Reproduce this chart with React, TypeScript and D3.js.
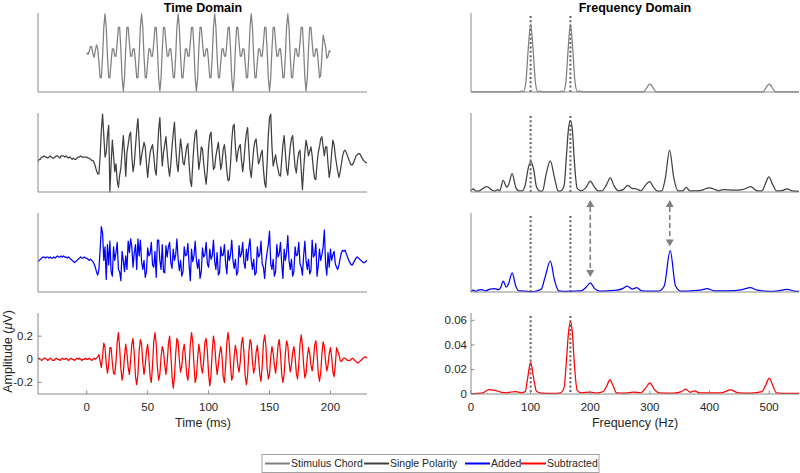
import React from "react";
import * as d3 from "d3";

// ---- time domain, one sample per ms ----
const stimStart = 0;
const stimulusChord = [
  0, -0.1, 0.05, 0.3, 0.3, -0.05, -0.25, 0.1, 0.4, 0.2, -0.5, -1.31, -1.31, -0.19, 1.31,
  2, 1.31, -0.19, -1.31, -1.31, -0.5, 0.19, 0.19, -0.19, -0.19, 0.5, 1.31, 1.31, 0.19, -1.31, -2, -1.31, 0.19, 1.31, 1.31, 0.5, -0.19, -0.19, 0.19, 0.19, -0.5, -1.31, -1.31, -0.19, 1.31,
  2, 1.31, -0.19, -1.31, -1.31, -0.5, 0.19, 0.19, -0.19, -0.19, 0.5, 1.31, 1.31, 0.19, -1.31, -2, -1.31, 0.19, 1.31, 1.31, 0.5, -0.19, -0.19, 0.19, 0.19, -0.5, -1.31, -1.31, -0.19, 1.31,
  2, 1.31, -0.19, -1.31, -1.31, -0.5, 0.19, 0.19, -0.19, -0.19, 0.5, 1.31, 1.31, 0.19, -1.31, -2, -1.31, 0.19, 1.31, 1.31, 0.5, -0.19, -0.19, 0.19, 0.19, -0.5, -1.31, -1.31, -0.19, 1.31,
  2, 1.31, -0.19, -1.31, -1.31, -0.5, 0.19, 0.19, -0.19, -0.19, 0.5, 1.31, 1.31, 0.19, -1.31, -2, -1.31, 0.19, 1.31, 1.31, 0.5, -0.19, -0.19, 0.19, 0.19, -0.5, -1.31, -1.31, -0.19, 1.31,
  2, 1.31, -0.19, -1.31, -1.31, -0.5, 0.19, 0.19, -0.19, -0.19, 0.5, 1.31, 1.31, 0.19, -1.31, -2, -1.31, 0.19, 1.31, 1.31, 0.5, -0.19, -0.19, 0.19, 0.19, -0.5, -1.31, -1.31, -0.19, 1.31,
  2, 1.31, -0.19, -1.31, -1.31, -0.5, 0.19, 0.19, -0.19, -0.19, 0.5, 1.31, 1.31, 0.19, -1.31, -2, -1.31, 0.19, 1.31, 1.31, 0.5, -0.19, -0.19, 0.19, 0.19, -0.5, -1.31, -1.2, -0.19, 0.9,
  0.6, 0.3, -0.3, -0.2, 0.1, 0,
];

const respStart = -40;
const singlePolarity = [
  -.03, -.01, -.01, .01, .01, .02, .01, .01, 0, .01, .02, .01, 0, 0, .01, .02, .02, .01, 0, .02,
  .02, .02, .01, .02, .01, 0, .01, 0, -.01, 0, -.01, -.01, 0, .01, .01, .02, .01, .01, .01, .01,
  .01, 0, 0, -.01, -.02, -.02, -.04, -.07, -.11, -.14,
  -.14, .02, .25, .39, .2, .01, .05, .2, .29, -.3,
  -.05, .16, .02, -.12, -.05, -.2, -.26, -.15, -.09, .05,
  .2, .05, -.16, .05, .12, .2, .23, .02, -.12, -.05,
  .1, .25, .35, .15, -.06, .02, .08, .14, .1, -.05,
  -.17, -.05, .05, .09, .12, .02, -.1, -.15, .05, .25,
  .36, .12, -.07, .05, .12, .19, .05, -.08, -.16, -.05,
  .1, .22, .32, .1, -.05, -.12, .03, .17, .08, -.04,
  -.06, .02, .1, .13, -.05, -.2, -.25, -.05, .12, .22,
  .25, .05, -.1, -.02, .1, .08, -.05, -.15, -.23, -.1,
  .1, .2, .23, .05, -.1, -.08, .02, .08, .14, .02,
  -.1, -.04, .08, .12, .02, -.12, -.2,
  -.19, -.05, .15, .28, .3, .1, -.03, .05, .1, .12,
  -.02, -.12, -.02, .12, .22, .27, .08, -.1, -.17, -.05,
  .08, .15, .17, .05, -.05, -.02, .04, .07, -.1, -.22,
  -.26, -.05, .2, .36, .39, .1, -.07, -.02, .03, -.05,
  -.1, -.15, -.16, -.02, .12, .2, .05, -.1, -.15, -.02,
  .1, .17, .2, .05, -.08, -.13, -.02, .05, .07, -.1,
  -.28, -.1, .05, .16, .1, .02, .06, .1, .02, -.1,
  -.18, -.19, -.05, .05, .1, .17, .19, .1, .02, .1,
  .1, -.05, -.17, -.1, .05, .16, .12, .02, -.05, -.12,
  -.17, -.12, -.05, .02, .06, .07, .05, .02, -.01, -.04,
  -.06, -.06, -.04, -.01, .02, .03, .04, .04, .02, 0,
  -.02, -.03, -.04, -.04,
];

const added = [
  -.03, -.02, -.01, 0, .01, .01, 0, .01, .01, 0, .01, 0, 0, .01, 0, .01, .02, .01, .01, .02,
  .01, .02, .01, .01, 0, .01, 0, -.01, -.02, -.03, -.04, -.03, -.02, -.01, 0, .01, 0, 0, .01, 0,
  0, -.01, -.02, -.01, -.02, -.03, -.05, -.08, -.12, -.15, -.1, .08, .28, .22,
  -.02, .1, -.19, .12, -.06, .15, -.12, -.16, .1, -.02, .05, .14, -.1, -.12, -.2,
  .06, -.02, -.12, .02, -.1, .15, .05, .17, .1, -.08, .05, .12, -.1, .17, .02,
  .16, -.03, -.1, -.02, -.17, -.12, .09, .02, .04, .14, -.06, -.08, .06, -.17, .16,
  .16, -.02, -.1, .12, -.12, -.13, .11, .01, .1, .14, -.04, -.09, .08, -.02, .03,
  .17, -.01, -.11, -.02, -.16, -.12, .1, .02, .03, .13, -.06, -.2, .08, -.03, .02,
  .15, -.02, -.09, -.01, -.18, -.12, .09, .01, .03, .14, -.05, -.08, .08, -.01, .02,
  .16, -.03, -.1, .05, -.15, -.13, .1, .02, .03, .12, -.05, -.14, .07, -.02, .03,
  .16, -.02, -.09, -.01, -.15, -.12, .11, .01, .04, .14, -.04, -.09, .08, -.02, .1,
  .17, -.02, -.1, -.01, -.15, -.13, .1, .01, .03, .15, -.05, -.08, -.18, -.03, .05,
  .12, .24, -.05, -.1, -.01, -.16, -.12, .12, .01, .04, .14, -.05, -.18, .08, -.02,
  .05, .2, -.02, -.1, -.01, -.16, -.12, .1, .02, .03, .14, -.05, -.08, -.15, .02,
  .15, -.02, -.1, -.01, -.14, -.11, .16, .01, .03, .13, -.16, -.07, .08, -.02, .03,
  .1, .25, -.05, -.15, .05, -.08, .08, -.02, .03, .06, -.05, -.08,
  -.1, -.06, 0, .05, .07, .06, .07, .04, .01, -.02, -.04, -.06, -.06, -.04, -.02, 0, .01, 0, -.01, -.02,
  -.03, -.04, -.04, -.03, -.02,
];

const subtracted = [
  0, .01, 0, -.01, 0, .01, .01, 0, -.01, 0, .01, 0, -.01, -.01, 0, .01, 0, 0, -.01, 0,
  .01, 0, 0, .01, 0, -.01, 0, .01, 0, 0, -.01, 0, .01, 0, .01, 0, -.01, 0, 0, .01,
  0, 0, .01, 0, -.01, 0, .01, 0, .01, .02, .04,
  -.02, -.07, .03, .14, .1, -.04, -.12, -.05, .1, .1, -.03, -.12, -.13, -.02, .15,
  .23, .1, -.08, -.18, -.12, .03, .13, .05, -.07, -.13, -.01, .13, .18, .05, -.15, -.22, -.13, .07, .17, .13, -.03, -.13, -.05, .07, .13, .01, -.15, -.2, -.05, .15,
  .23, .13, -.07, -.18, -.13, .02, .11, .07, -.05, -.13, -.03, .13, .2, .05, -.15, -.25, -.15, .05, .18, .15, -.01, -.11, -.06, .07, .13, .02, -.13, -.18, -.07, .13,
  .23, .15, -.05, -.2, -.15, .01, .13, .05, -.07, -.12, -.01, .15, .18, .07, -.13, -.23, -.13, .07, .2, .13, -.03, -.13, -.05, .05, .11, .03, -.15, -.2, -.05, .15,
  .23, .13, -.06, -.18, -.14, .03, .12, .06, -.06, -.11, -.02, .14, .19, .06, -.14, -.22, -.14, .06, .17, .14, -.02, -.12, -.07, .06, .12, .01, -.13, -.19, -.06, .14,
  .21, .12, -.07, -.17, -.13, .02, .11, .05, -.05, -.12, -.02, .12, .17, .05, -.13, -.2, -.13, .05, .16, .12, -.02, -.11, -.05, .06, .11, .02, -.12, -.17, -.05, .13,
  .21, .12, -.05, -.16, -.12, .02, .1, .05, -.05, -.1, -.02, .12, .16, .05, -.12, -.19, -.12, .05, .15, .11, -.02, -.1, -.05, .05, .1, .02, -.11, -.15, -.05, .1,
  .07, .04, -.01, -.02, 0, .01, .01, 0, -.01, -.01, -.01, 0, .01, 0, -.01, -.02, -.03, -.03, -.02, -.01,
  0, .01, .02, .02, .01,
];

// ---- frequency domain, [Hz, amplitude] ----
const stimSpectrum: [number, number][] = [
  [0, .002], [80, .002], [85, .012], [88, .003], [92, .12], [96, .55], [100, .86], [104, .55], [108, .12], [112, .003], [115, .012], [120, .002],
  [148, .002], [152, .012], [155, .003], [159, .12], [163, .55], [166.7, .86], [170.5, .55], [174.5, .12], [178.5, .003], [181.5, .012], [187, .002],
  [289, .002], [300, .1], [311, .002], [489, .002], [500, .1], [511, .002], [550, .002],
];
const singleSpectrum: [number, number][] = [
  [0, .001], [4, .0027], [8, .0008], [14, .001], [20, .003], [27, .0044], [34, .002], [40, .0008], [45, .002], [48, .001],
  [54, .0098], [60, .004], [63, .006], [69, .0153], [75, .004], [80, .001], [86, .001], [91, .006], [96, .02], [100.6, .0254],
  [105, .019], [110, .004], [116, .0008], [120, .001], [126, .015], [133, .026], [140, .012], [146, .001], [150, .0008], [156, .005],
  [160, .03], [163.5, .053], [166.7, .0595], [170, .052], [173, .028], [178, .003], [185, .001], [193, .004], [200, .009], [207, .004],
  [213, .001], [220, .001], [227, .006], [233.7, .0117], [240, .005], [247, .001], [255, .002], [262.8, .0055], [270, .003], [278, .0025],
  [285, .001], [293, .006], [299.7, .0087], [306, .004], [313, .0008], [320, .001], [326, .012], [333, .035], [340, .012], [347, .001],
  [355, .001], [361, .0038], [367, .001], [380, .001], [390, .002], [398.7, .0035], [410, .002], [415, .001], [423, .002], [440, .0015],
  [455, .002], [468.6, .0044], [480, .001], [488, .001], [493, .006], [499.4, .0126], [506, .006], [512, .001], [522, .0012], [530, .0027],
  [538, .001], [550, .0005],
];
const addedSpectrum: [number, number][] = [
  [0, .0005], [4, .0015], [8, .0005], [12, .0015], [18, .002], [25, .001], [32, .0025], [40, .0028], [46, .002], [50, .004],
  [54, .0091], [59, .004], [63, .007], [69, .016], [75, .005], [80, .001], [90, .0008], [100, .0003], [110, .0008], [118, .0025],
  [124, .012], [133, .0257], [140, .01], [147, .001], [155, .0006], [166.7, .0005], [175, .0008], [185, .001], [193, .004], [200, .0077],
  [207, .003], [215, .0008], [230, .001], [245, .0015], [255, .003], [262, .005], [270, .0025], [278, .0036], [286, .001], [300, .0008],
  [315, .0008], [324, .005], [334, .0346], [343, .005], [352, .0008], [370, .001], [385, .0015], [396, .0028], [408, .001], [430, .001],
  [455, .002], [468, .0036], [480, .0015], [500, .0005], [515, .001], [530, .0022], [542, .0008], [550, .0005],
];
const subtractedSpectrum: [number, number][] = [
  [0, .0003], [10, .0005], [20, .001], [30, .0035], [40, .003], [50, .0015], [60, .001], [66, .0015], [75, .002], [85, .001],
  [91, .002], [95, .013], [100, .026], [105, .013], [110, .002], [118, .0008], [140, .0005], [150, .001], [156, .005], [160, .027],
  [163.5, .05], [166.7, .059], [170, .05], [173, .027], [178, .003], [185, .001], [200, .0015], [210, .0008], [222, .002], [228, .007],
  [233, .0117], [238, .007], [244, .001], [260, .0008], [272, .0015], [285, .001], [293, .005], [300, .009], [307, .004], [315, .001],
  [340, .0008], [353, .002], [360, .004], [367, .0015], [375, .0025], [383, .001], [420, .001], [435, .0033], [448, .001], [470, .0008],
  [488, .002], [494, .007], [500, .013], [506, .007], [512, .001], [530, .0005], [550, .0005],
];

const chordFreqs = [100, 166.7];
const arrowFreqs = [200, 333.3];
const arrowEnds = [0.0125, 0.038];

const timeTicks = [0, 50, 100, 150, 200];
const ampTicks = [-0.2, 0, 0.2];
const freqTicks = [0, 100, 200, 300, 400, 500];
const specTicks = [0, 0.02, 0.04, 0.06];

const legendNames = ["Stimulus Chord", "Single Polarity", "Added", "Subtracted"];
const colors = ["#808080", "#404040", "#0000ff", "#ff0000"];

const FONT = "'Liberation Sans', Arial, Helvetica, sans-serif";
const AXIS = "#8a8a8a";
const TXT = "#262626";

type Pt = [number, number];

export default function App() {
  const tops = [13, 113, 213, 313];
  const bottoms = [92, 192, 292, 394];

  const xT = d3.scaleLinear().domain([-40, 230]).range([38, 367]);
  const xF = d3.scaleLinear().domain([0, 550]).range([471, 799]);

  const yT = tops.map((t, i) =>
    d3.scaleLinear().domain(i === 0 ? [-2.05, 2.05] : [-0.3, 0.4]).range([bottoms[i], t])
  );
  const yF = tops.map((t, i) =>
    d3.scaleLinear().domain(i === 0 ? [0, 1] : [0, 0.066]).range([bottoms[i], t])
  );

  const timeSeries: Pt[][] = [
    stimulusChord.map((v, i) => [stimStart + i, v]),
    singlePolarity.map((v, i) => [respStart + i, v]),
    added.map((v, i) => [respStart + i, v]),
    subtracted.map((v, i) => [respStart + i, v]),
  ];
  const spectra = [stimSpectrum, singleSpectrum, addedSpectrum, subtractedSpectrum];

  const tickLen = 3.5;

  return (
    <svg
      width={800}
      height={473}
      style={{ position: "absolute", left: 0, top: 0, background: "#fff" }}
      fontFamily={FONT}
    >
      <rect width={800} height={473} fill="#fff" />
      <text x={203} y={11.5} textAnchor="middle" fontSize={12.5} fontWeight="bold" fill="#000">
        Time Domain
      </text>
      <text x={635} y={11.5} textAnchor="middle" fontSize={12.5} fontWeight="bold" fill="#000">
        Frequency Domain
      </text>

      {tops.map((top, i) => {
        const bot = bottoms[i];
        const tl = d3.line<Pt>().x((d) => xT(d[0])).y((d) => yT[i](d[1]));
        const fl = d3
          .line<Pt>()
          .curve(d3.curveMonotoneX)
          .x((d) => xF(d[0]))
          .y((d) => yF[i](d[1]));
        return (
          <g key={i}>
            {/* time panel */}
            <path d={tl(timeSeries[i]) || ""} fill="none" stroke={colors[i]} strokeWidth={1.25} strokeLinejoin="round" />
            <line x1={xT.range()[0]} x2={xT.range()[0]} y1={top} y2={bot} stroke={AXIS} strokeWidth={1} />
            <line x1={xT.range()[0]} x2={xT.range()[1]} y1={bot} y2={bot} stroke={AXIS} strokeWidth={1} />
            {/* frequency panel */}
            {chordFreqs.map((f) => (
              <line
                key={f}
                x1={xF(f)}
                x2={xF(f)}
                y1={top + 3}
                y2={bot}
                stroke="#5f5f5f"
                strokeWidth={2}
                strokeDasharray="2 2.35"
              />
            ))}
            <path d={fl(spectra[i]) || ""} fill="none" stroke={colors[i]} strokeWidth={1.25} strokeLinejoin="round" />
            <line x1={xF.range()[0]} x2={xF.range()[0]} y1={top} y2={bot} stroke={AXIS} strokeWidth={1} />
            <line x1={xF.range()[0]} x2={xF.range()[1]} y1={bot} y2={bot} stroke={AXIS} strokeWidth={1} />
          </g>
        );
      })}

      {/* bottom-left axes */}
      {timeTicks.map((t) => (
        <g key={t}>
          <line x1={xT(t)} x2={xT(t)} y1={bottoms[3]} y2={bottoms[3] - tickLen} stroke={AXIS} />
          <text x={xT(t)} y={bottoms[3] + 17} textAnchor="middle" fontSize={11.5} fill={TXT}>
            {t}
          </text>
        </g>
      ))}
      {ampTicks.map((a) => (
        <g key={a}>
          <line x1={xT.range()[0]} x2={xT.range()[0] + tickLen} y1={yT[3](a)} y2={yT[3](a)} stroke={AXIS} />
          <text x={33} y={yT[3](a)} dy="0.35em" textAnchor="end" fontSize={11.5} fill={TXT}>
            {a}
          </text>
        </g>
      ))}
      <text x={203} y={427} textAnchor="middle" fontSize={12.5} fill={TXT}>
        Time (ms)
      </text>
      <text transform={`translate(12,${(tops[3] + bottoms[3]) / 2 - 2}) rotate(-90)`} textAnchor="middle" fontSize={12.5} fill={TXT}>
        Amplitude (<tspan fontStyle="italic">μ</tspan>V)
      </text>

      {/* bottom-right axes */}
      {freqTicks.map((f) => (
        <g key={f}>
          <line x1={xF(f)} x2={xF(f)} y1={bottoms[3]} y2={bottoms[3] - tickLen} stroke={AXIS} />
          <text x={xF(f)} y={bottoms[3] + 17} textAnchor="middle" fontSize={11.5} fill={TXT}>
            {f}
          </text>
        </g>
      ))}
      {specTicks.map((a) => (
        <g key={a}>
          <line x1={xF.range()[0]} x2={xF.range()[0] + tickLen} y1={yF[3](a)} y2={yF[3](a)} stroke={AXIS} />
          <text x={467} y={yF[3](a)} dy="0.35em" textAnchor="end" fontSize={11.5} fill={TXT}>
            {a}
          </text>
        </g>
      ))}
      <text x={635} y={427} textAnchor="middle" fontSize={12.5} fill={TXT}>
        Frequency (Hz)
      </text>

      {/* dashed arrows between single polarity and added spectra */}
      {arrowFreqs.map((f, i) => {
        const x = xF(f);
        const yTop = bottoms[1] + 8;
        const yBot = yF[2](arrowEnds[i]);
        const head = 7;
        return (
          <g key={f} fill="#808080">
            <line x1={x} x2={x} y1={yTop + head} y2={yBot - head} stroke="#808080" strokeWidth={1.6} strokeDasharray="5 3" />
            <polygon points={`${x},${yTop} ${x - 4},${yTop + head} ${x + 4},${yTop + head}`} />
            <polygon points={`${x},${yBot} ${x - 4},${yBot - head} ${x + 4},${yBot - head}`} />
          </g>
        );
      })}

      {/* legend */}
      <rect x={262} y={454.5} width={337} height={18} fill="#fff" stroke="#a0a0a0" strokeWidth={1} />
      {legendNames.map((name, i) => {
        const x0 = [265, 364, 465, 521][i];
        return (
          <g key={name}>
            <line x1={x0} x2={x0 + 25} y1={463.5} y2={463.5} stroke={colors[i]} strokeWidth={2} />
            <text x={x0 + 26} y={467.2} fontSize={10.5} fill={TXT}>
              {name}
            </text>
          </g>
        );
      })}
    </svg>
  );
}
